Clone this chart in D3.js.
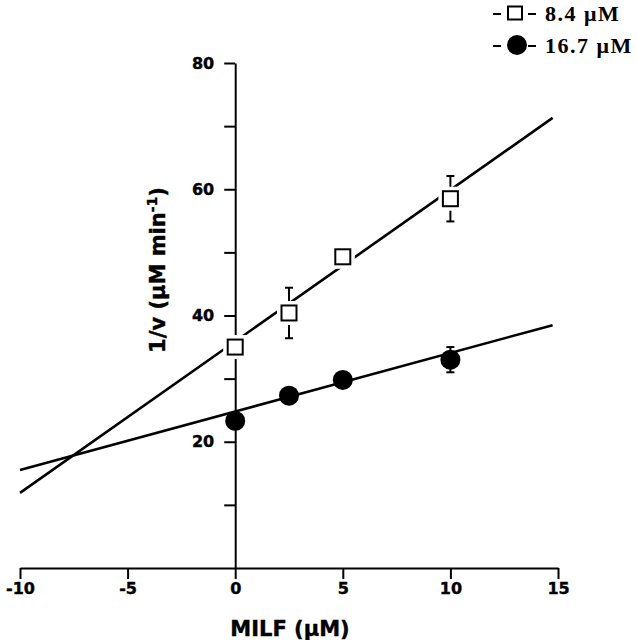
<!DOCTYPE html>
<html>
<head>
<meta charset="utf-8">
<script src="https://cdn.jsdelivr.net/npm/d3@7"></script>
<style>
    html, body { margin: 0; padding: 0; background: #fff; }
    svg { display: block; }
    .tick-label { font-family: 'DejaVu Sans', sans-serif; font-weight: bold; font-size: 16px; fill: #000; stroke: #000; stroke-width: 0.4px; }
    .axis-title { font-family: 'DejaVu Sans', sans-serif; font-weight: bold; font-size: 21px; fill: #000; stroke: #000; stroke-width: 0.4px; }
    .legend-text { font-family: 'Liberation Serif', 'Times New Roman', serif; font-weight: bold; font-size: 22px; letter-spacing: 1.5px; fill: #000; }
</style>
</head>
<body>
<svg id="chart" width="637" height="640"></svg>
<script>
(function () {
    'use strict';

    // MILF concentration (uM)
    const milf = [0, 2.5, 5, 10];
    // 1/v for the two substrate concentrations
    const invV_8_4 = [35.0, 40.4, 49.3, 58.5];
    const err_8_4 = [0, 4.0, 0, 3.6];
    const invV_16_7 = [23.3, 27.3, 29.8, 33.0];
    const err_16_7 = [0, 0, 0, 2.0];

    // regression lines drawn across the plot: [slope, intercept]
    const fit_8_4 = [2.40, 35.9];
    const fit_16_7 = [0.927, 24.8];
    const fitRange = [-10, 14.75];

    const xTicks = [-10, -5, 0, 5, 10, 15];
    const yTicks = [10, 20, 30, 40, 50, 60, 70, 80];
    const yLabelled = [20, 40, 60, 80];
    const legendLabels = ['8.4 \u03bcM', '16.7 \u03bcM'];

    const svg = d3.select('#chart');

    const x = d3.scaleLinear().domain([-10, 15]).range([20, 558]);
    const y = d3.scaleLinear().domain([0, 80]).range([568, 63]);

    // x axis
    const xAxis = svg.append('g')
        .attr('transform', `translate(0, ${y(0)})`)
        .call(d3.axisBottom(x).tickValues(xTicks).tickSize(11).tickSizeOuter(0).tickFormat(d => String(d)));
    xAxis.select('.domain').attr('stroke-width', 2);
    xAxis.selectAll('.tick line').attr('stroke-width', 2);
    xAxis.selectAll('.tick text')
        .attr('class', 'tick-label')
        .attr('font-family', null).attr('font-size', null)
        .attr('y', 15).attr('dy', '0.71em');

    // y axis sits on x = 0
    const yAxis = svg.append('g')
        .attr('transform', `translate(${x(0)}, 0)`)
        .call(d3.axisLeft(y).tickValues(yTicks).tickSize(11).tickSizeOuter(0)
            .tickFormat(d => yLabelled.includes(d) ? d : ''));
    yAxis.select('.domain').attr('stroke-width', 2);
    yAxis.selectAll('.tick line').attr('stroke-width', 2);
    yAxis.selectAll('.tick text')
        .attr('class', 'tick-label')
        .attr('font-family', null).attr('font-size', null)
        .attr('x', -21);

    svg.append('text')
        .attr('class', 'axis-title')
        .attr('x', 290).attr('y', 636)
        .attr('text-anchor', 'middle')
        .text('MILF (\u03bcM)');

    const yTitle = svg.append('text')
        .attr('class', 'axis-title')
        .attr('transform', 'translate(165, 270) rotate(-90)')
        .attr('text-anchor', 'middle');
    yTitle.append('tspan').text('1/v (\u03bcM min');
    yTitle.append('tspan').attr('dy', -8).attr('font-size', 14).text('-1');
    yTitle.append('tspan').attr('dy', 8).text(')');

    // fit lines
    const line = d3.line().x(d => x(d[0])).y(d => y(d[1]));
    [fit_16_7, fit_8_4].forEach(fit => {
        svg.append('path')
            .datum(fitRange.map(v => [v, fit[0] * v + fit[1]]))
            .attr('d', line)
            .attr('fill', 'none')
            .attr('stroke', '#000')
            .attr('stroke-width', 2.6);
    });

    // error bars
    function errorBars(xs, ys, errs) {
        const data = xs.map((v, i) => ({ x: v, y: ys[i], e: errs[i] })).filter(d => d.e > 0);
        const g = svg.append('g').attr('stroke', '#000').attr('stroke-width', 2);
        g.selectAll('line.bar').data(data).enter().append('line')
            .attr('x1', d => x(d.x)).attr('x2', d => x(d.x))
            .attr('y1', d => y(d.y + d.e)).attr('y2', d => y(d.y - d.e));
        [1, -1].forEach(sign => {
            g.selectAll(null).data(data).enter().append('line')
                .attr('x1', d => x(d.x) - 4).attr('x2', d => x(d.x) + 4)
                .attr('y1', d => y(d.y + sign * d.e)).attr('y2', d => y(d.y + sign * d.e));
        });
    }
    errorBars(milf, invV_8_4, err_8_4);
    errorBars(milf, invV_16_7, err_16_7);

    // markers
    const SQ = 15;
    function drawSquare(g, cx, cy) {
        g.append('rect')
            .attr('x', cx - SQ / 2).attr('y', cy - SQ / 2)
            .attr('width', SQ).attr('height', SQ)
            .attr('fill', '#fff').attr('stroke', '#fff').attr('stroke-width', 9);
        g.append('rect')
            .attr('x', cx - SQ / 2).attr('y', cy - SQ / 2)
            .attr('width', SQ).attr('height', SQ)
            .attr('fill', '#fff').attr('stroke', '#000').attr('stroke-width', 2);
    }
    const squares = svg.append('g');
    milf.forEach((v, i) => drawSquare(squares, x(v), y(invV_8_4[i])));

    svg.append('g').selectAll('circle')
        .data(milf.map((v, i) => [v, invV_16_7[i]]))
        .enter().append('circle')
        .attr('cx', d => x(d[0])).attr('cy', d => y(d[1]))
        .attr('r', 10).attr('fill', '#000');

    // legend
    const legend = svg.append('g');
    [13, 45].forEach((ly, i) => {
        legend.append('line').attr('x1', 493).attr('x2', 501).attr('y1', ly + 1).attr('y2', ly + 1)
            .attr('stroke', '#000').attr('stroke-width', 2);
        legend.append('line').attr('x1', 528).attr('x2', 536).attr('y1', ly + 1).attr('y2', ly + 1)
            .attr('stroke', '#000').attr('stroke-width', 2);
        if (i === 0) {
            legend.append('rect').attr('x', 508).attr('y', ly - 6.5).attr('width', 14).attr('height', 13)
                .attr('fill', '#fff').attr('stroke', '#000').attr('stroke-width', 2);
        } else {
            legend.append('circle').attr('cx', 517).attr('cy', ly).attr('r', 10).attr('fill', '#000');
        }
        legend.append('text')
            .attr('class', 'legend-text')
            .attr('x', 545).attr('y', ly + 8)
            .text(legendLabels[i]);
    });
})();
</script>
</body>
</html>
